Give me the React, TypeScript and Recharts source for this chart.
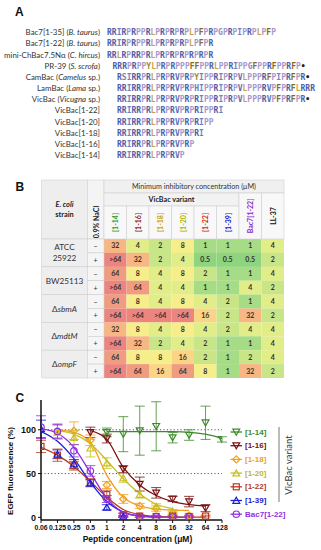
import React from "react";
import {
  BarChart,
  Bar,
  Cell,
  LabelList,
  XAxis,
  YAxis,
  ComposedChart,
  Line,
  Scatter,
  ErrorBar,
  ReferenceLine,
} from "recharts";

// ---------------- Panel A data ----------------
const seqNames = [
  "Bac7[1-35]",
  "Bac7[1-22]",
  "mini-ChBac7.5Nα",
  "PR-39",
  "CamBac",
  "LamBac",
  "VicBac",
  "VicBac[1-22]",
  "VicBac[1-20]",
  "VicBac[1-18]",
  "VicBac[1-16]",
  "VicBac[1-14]",
];
const seqOrganism = ["B. taurus", "B. taurus", "C. hircus", "S. scrofa", "Camelus", "Lama", "Vicugna", "", "", "", "", ""];
const seqOrganismSuffix = ["", "", "", "", " sp.", " sp.", " sp.", "", "", "", "", ""];
const sequences = [
  "RRIRPRPPRLPRPRPRPLPFPRPGPRPIPRPLPFP",
  "RRIRPRPPRLPRPRPRPLPFPR",
  "RRLRPRRPRLPRPRPRPRPRPR",
  "RRRPRPPYLPRPRPPPFFPPRLPPRIPPGFPPRFPPRFP•",
  "RSIRRPRLPRPRVPRPYIPPRIPRPVLPPPRFPIPRFPR•",
  "RRIRRPRLPRPRVPRPHIPPRIPRPVLPPPRVPFPRFLRRR",
  "RRIRRPRLPRPRVPRPRIPPRIPRPVLPPPRVPFPRFPR•",
  "RRIRRPRLPRPRVPRPRIPPRI",
  "RRIRRPRLPRPRVPRPRIPP",
  "RRIRRPRLPRPRVPRPRI",
  "RRIRRPRLPRPRVPRP",
  "RRIRRPRLPRPRVP",
];

// ---------------- Panel B data ----------------
const strains = ["ATCC 25922", "BW25113", "ΔsbmA", "ΔmdtM", "ΔompF"];
const naclLevels = ["−", "+"];
const peptideCols = ["[1-14]", "[1-16]", "[1-18]", "[1-20]", "[1-22]", "[1-39]", "Bac7[1-22]", "LL-37"];
const micAtccMinus = ["32", "4", "2", "8", "1", "1", "1", "4"];
const micAtccPlus = [">64", "32", "2", "4", "0.5", "0.5", "0.5", "2"];
const micBwMinus = ["64", "8", "4", "8", "2", "1", "1", "4"];
const micBwPlus = [">64", "64", "4", "4", "1", "1", "4", "2"];
const micSbmaMinus = ["64", "8", "4", "8", "4", "2", "1", "4"];
const micSbmaPlus = [">64", ">64", ">64", ">64", "16", "2", "32", "2"];
const micMdtmMinus = ["32", "8", "4", "8", "4", "2", "4", "4"];
const micMdtmPlus = [">64", "32", "2", "4", "2", "1", "1", "4"];
const micOmpfMinus = ["64", "8", "8", "16", "2", "1", "2", "4"];
const micOmpfPlus = [">64", "64", "16", "64", "8", "1", "32", "2"];
const micRows = [
  micAtccMinus, micAtccPlus, micBwMinus, micBwPlus, micSbmaMinus,
  micSbmaPlus, micMdtmMinus, micMdtmPlus, micOmpfMinus, micOmpfPlus,
];

// ---------------- Panel C data ----------------
const xTicks = [0.0625, 0.125, 0.25, 0.5, 1, 2, 4, 8, 16, 32, 64, 128];
const yTicks = [0, 50, 100];

const x14 = [1, 2, 4, 8, 16, 32, 64, 128];
const y14 = [97, 95, 99, 104, 91, 94, 108, 89];
const e14 = [5, 20, 28, 28, 6, 6, 19, 3];
const fitX14 = [1, 2, 4, 8, 16, 32, 64, 128];
const fitY14 = [98, 98, 98, 98, 97.8, 97, 95, 90];

const x16 = [0.5, 1, 2, 4, 8, 16, 32, 64];
const y16 = [97, 90, 55, 38, 28, 21, 18, 10.5];
const e16 = [6, 5, 4, 8, 6, 3, 6, 4];
const fitX16 = [0.5, 1, 2, 4, 8, 16, 32, 64];
const fitY16 = [99, 89, 57, 37, 25, 18, 14.5, 13];

const x18 = [0.125, 0.25, 0.5, 1, 2, 4, 8, 16, 32];
const y18 = [99, 99, 88, 37, 21, 13, 10, 5, 2];
const e18 = [8, 10, 6, 4, 5, 3, 3, 2, 2];
const fitX18 = [0.125, 0.25, 0.5, 1, 2, 4, 8, 16, 32];
const fitY18 = [100, 97, 86, 48, 23, 13, 9.5, 8.3, 8];

const x20 = [0.125, 0.25, 0.5, 1, 2, 4, 8, 16];
const y20 = [97, 91, 79, 62, 45, 26, 12.5, 7];
const e20 = [8, 8, 10, 6, 5, 4, 3, 2];
const fitX20 = [0.125, 0.25, 0.5, 1, 2, 4, 8, 16];
const fitY20 = [99, 95, 84, 65, 44, 27, 15, 10];

const x22 = [0.0625, 0.125, 0.25, 0.5, 1, 2, 4, 8, 16, 32, 64];
const y22 = [81, 71, 59, 40, 26, 3, 1.5, 1, 1.5, 1, 1.5];
const e22 = [7, 7, 5, 4, 5, 2, 1, 1, 1, 1, 1];
const fitX22 = [0.0625, 0.125, 0.25, 0.5, 1, 2, 4, 8, 16, 32, 64];
const fitY22 = [80, 71, 58, 41, 23, 9, 3, 1, 0.5, 0.3, 0.2];

const x39 = [0.0625, 0.125, 0.25, 0.5, 1, 2];
const y39 = [101, 72, 61, 39, 11.5, 1];
const e39 = [10, 5, 5, 4, 3, 1];
const fitX39 = [0.0625, 0.125, 0.25, 0.5, 1, 2, 4, 8];
const fitY39 = [98, 87, 67, 40, 18, 6, 1.5, 0.5];

const xBac = [0.0625, 0.125, 0.25, 0.5, 1, 2, 4, 8, 16, 32];
const yBac = [103, 98, 76, 53, 21, 2.5, 1, 0.5, 0.5, 0.5];
const eBac = [13, 8, 7, 6, 4, 2, 1, 1, 1, 1];
const fitXBac = [0.0625, 0.125, 0.25, 0.5, 1, 2, 4, 8, 16, 32];
const fitYBac = [101, 96, 80, 51, 22, 6, 1.5, 0.5, 0.2, 0.1];

const seriesNames = ["[1-14]", "[1-16]", "[1-18]", "[1-20]", "[1-22]", "[1-39]", "Bac7[1-22]"];

// ---------------- styling ----------------
const residueColor: Record<string, string> = {
  R: "#4e5ea8", P: "#a698cc", I: "#7482b8", L: "#c9a048", F: "#8a6a1a",
  Y: "#a08c2c", V: "#5e6eb2", G: "#968ac2", H: "#6d7cb4", S: "#7482b8", "•": "#222",
};
const micColor: Record<string, string> = {
  "0.5": "#8fd47e", "1": "#a6dc85", "2": "#c8e688", "4": "#e1ed88", "8": "#f6ee8a",
  "16": "#fbd486", "32": "#f6b784", "64": "#f09c80", ">64": "#ec8580",
};
const colHeaderColors = ["#2e9a2e", "#8b2020", "#c8a000", "#b0b000", "#d02828", "#1a1ad0", "#8a2ed0", "#111"];
const seriesColors = ["#3c8a28", "#7a1010", "#f0a020", "#c8c020", "#b83a1a", "#1c1cd8", "#9030e0"];
const legendTextColors = ["#3c8a28", "#7a1010", "#f0a020", "#c0b820", "#b83a1a", "#1c1cd8", "#9030e0"];

const zipPts = (xs: number[], ys: number[], es?: number[]) =>
  xs.map((x, i) => ({ x, y: ys[i], e: es ? es[i] : 0 }));

type MarkerKind = "down" | "diamond" | "up" | "square" | "circle";
const markerKinds: MarkerKind[] = ["down", "down", "diamond", "up", "square", "up", "circle"];

function Marker({ cx, cy, kind, color }: { cx: number; cy: number; kind: MarkerKind; color: string }) {
  const sw = 1.2;
  if (kind === "down")
    return <polygon points={`${cx - 3.4},${cy - 2.8} ${cx + 3.4},${cy - 2.8} ${cx},${cy + 3.2}`} fill="none" stroke={color} strokeWidth={sw} />;
  if (kind === "up")
    return <polygon points={`${cx - 3.4},${cy + 2.8} ${cx + 3.4},${cy + 2.8} ${cx},${cy - 3.2}`} fill="none" stroke={color} strokeWidth={sw} />;
  if (kind === "diamond")
    return <polygon points={`${cx},${cy - 3.6} ${cx + 3.6},${cy} ${cx},${cy + 3.6} ${cx - 3.6},${cy}`} fill="none" stroke={color} strokeWidth={sw} />;
  if (kind === "square")
    return <rect x={cx - 3} y={cy - 3} width={6} height={6} fill="none" stroke={color} strokeWidth={sw} />;
  return <circle cx={cx} cy={cy} r={3.2} fill="none" stroke={color} strokeWidth={sw} />;
}

const pointSets = [
  zipPts(x14, y14, e14), zipPts(x16, y16, e16), zipPts(x18, y18, e18), zipPts(x20, y20, e20),
  zipPts(x22, y22, e22), zipPts(x39, y39, e39), zipPts(xBac, yBac, eBac),
];
const fitSets = [
  zipPts(fitX14, fitY14), zipPts(fitX16, fitY16), zipPts(fitX18, fitY18), zipPts(fitX20, fitY20),
  zipPts(fitX22, fitY22), zipPts(fitX39, fitY39), zipPts(fitXBac, fitYBac),
];

const heatData = micRows.map((r, i) => {
  const o: any = { row: i };
  r.forEach((v, j) => {
    o[`c${j}`] = 1;
    o[`l${j}`] = v;
  });
  return o;
});

const SANS = "Lato, 'Liberation Sans', sans-serif";
const ARIAL = "'Liberation Sans', Arial, sans-serif";

// table layout
const TB = { left: 41.7, strainW: 45.6, naclW: 16.7, dataLeft: 104, colW: 22.5, top: 180, r1: 13, r2: 13, dataTop: 239, rowH: 13.9 };

export default function App() {
  const seqY0 = 32.3;
  const seqDy = 11.17;
  const seqStartX = (i: number) => (i < 3 ? 107 : i === 3 ? 112.5 : 117);
  const dataRight = TB.dataLeft + TB.colW * 8;
  const gridStroke = "#cfcfcf";

  return (
    <div style={{ position: "fixed", left: 0, top: 0, width: 321, height: 550, background: "#fff", overflow: "hidden" }}>
      {/* heatmap */}
      <div style={{ position: "absolute", left: TB.dataLeft, top: TB.dataTop }}>
        <BarChart
          width={TB.colW * 8}
          height={TB.rowH * 10}
          data={heatData}
          layout="vertical"
          margin={{ top: 0, right: 0, bottom: 0, left: 0 }}
          barCategoryGap={0}
          barGap={0}
        >
          <XAxis type="number" domain={[0, 8]} hide />
          <YAxis type="category" dataKey="row" hide />
          {peptideCols.map((p, j) => (
            <Bar key={p} dataKey={`c${j}`} stackId="s" isAnimationActive={false}>
              {heatData.map((d, i) => (
                <Cell key={i} fill={micColor[micRows[i][j]]} />
              ))}
              <LabelList
                dataKey={`l${j}`}
                position="center"
                fill="#3a3030"
                fontSize={7}
                fontWeight="bold"
                fontFamily={SANS}
              />
            </Bar>
          ))}
        </BarChart>
      </div>

      {/* dose-response chart */}
      <div style={{ position: "absolute", left: 0, top: 380 }}>
        <ComposedChart width={321} height={170} margin={{ top: 20, right: 99, bottom: 10, left: 8 }}>
          <XAxis
            type="number"
            dataKey="x"
            scale="log"
            domain={[0.0625, 128]}
            allowDataOverflow
            ticks={xTicks}
            interval={0}
            height={20}
            tickSize={3}
            tickFormatter={(v: number) => (v === 0.0625 ? "0.06" : String(v))}
            axisLine={{ stroke: "#111", strokeWidth: 1.5 }}
            tickLine={{ stroke: "#111", strokeWidth: 1 }}
            tick={{ fontSize: 6.8, fontWeight: "bold", fill: "#111", fontFamily: ARIAL }}
          />
          <YAxis
            type="number"
            domain={[-3, 134]}
            allowDataOverflow
            ticks={yTicks}
            interval={0}
            width={33}
            tickSize={3}
            axisLine={{ stroke: "#111", strokeWidth: 1.5 }}
            tickLine={{ stroke: "#111", strokeWidth: 1 }}
            tick={{ fontSize: 9, fontWeight: "bold", fill: "#111", fontFamily: ARIAL }}
          />
          <ReferenceLine y={100} stroke="#444" strokeDasharray="1.2 2.2" strokeWidth={0.9} />
          <ReferenceLine y={50} stroke="#444" strokeDasharray="1.2 2.2" strokeWidth={0.9} />
          {fitSets.map((d, k) => (
            <Line
              key={`fit${k}`}
              data={d}
              dataKey="y"
              type="monotone"
              dot={false}
              activeDot={false}
              stroke={seriesColors[k]}
              strokeWidth={1.3}
              isAnimationActive={false}
            />
          ))}
          {pointSets.map((d, k) => (
            <Scatter
              key={`pts${k}`}
              data={d}
              dataKey="y"
              isAnimationActive={false}
              shape={(p: any) => <Marker cx={p.cx} cy={p.cy} kind={markerKinds[k]} color={seriesColors[k]} />}
            >
              <ErrorBar dataKey="e" direction="y" width={5} stroke={seriesColors[k]} strokeWidth={0.8} />
            </Scatter>
          ))}
        </ComposedChart>
      </div>

      {/* overlay texts */}
      <svg width={321} height={550} style={{ position: "absolute", left: 0, top: 0, pointerEvents: "none" }}>
        {/* panel letters */}
        <text x={15} y={15.5} fontFamily={ARIAL} fontWeight="bold" fontSize={12} fill="#111">A</text>
        <text x={15.5} y={190.5} fontFamily={ARIAL} fontWeight="bold" fontSize={12} fill="#111">B</text>
        <text x={15.5} y={401.5} fontFamily={ARIAL} fontWeight="bold" fontSize={12} fill="#111">C</text>

        {/* Panel A */}
        {seqNames.map((n, i) => {
          const y = seqY0 + i * seqDy;
          return (
            <g key={n}>
              <text x={100} y={y} textAnchor="end" dominantBaseline="central" fontFamily={SANS} fontSize={7.9} fill="#333">
                {n}
                {seqOrganism[i] ? " (" : ""}
                {seqOrganism[i] ? <tspan fontStyle="italic">{seqOrganism[i]}</tspan> : null}
                {seqOrganism[i] ? seqOrganismSuffix[i] + ")" : ""}
              </text>
              <text x={seqStartX(i)} y={y} dominantBaseline="central" fontFamily="'DejaVu Sans Mono', monospace" fontSize={8} fontWeight="bold">
                {sequences[i].split("").map((c, k) => (
                  <tspan key={k} fill={residueColor[c] || "#555"}>{c}</tspan>
                ))}
              </text>
            </g>
          );
        })}

        {/* Panel B header */}
        <rect x={TB.left} y={TB.top} width={TB.strainW} height={TB.dataTop - TB.top} fill="#eeeeee" stroke={gridStroke} strokeWidth={0.6} />
        <rect x={TB.left + TB.strainW} y={TB.top} width={TB.naclW} height={TB.dataTop - TB.top} fill="#f4f4f4" stroke={gridStroke} strokeWidth={0.6} />
        <rect x={TB.dataLeft} y={TB.top} width={dataRight - TB.dataLeft} height={TB.r1} fill="#f0f0f0" stroke={gridStroke} strokeWidth={0.6} />
        <rect x={TB.dataLeft} y={TB.top + TB.r1} width={TB.colW * 6} height={TB.r2} fill="#f2f2f2" stroke={gridStroke} strokeWidth={0.6} />
        {peptideCols.map((p, j) => {
          const x = TB.dataLeft + TB.colW * j;
          const y = j < 6 ? TB.top + TB.r1 + TB.r2 : TB.top + TB.r1;
          return (
            <g key={p}>
              <rect x={x} y={y} width={TB.colW} height={TB.dataTop - y} fill="#f8f8f8" stroke={gridStroke} strokeWidth={0.6} />
              <text
                transform={`translate(${x + TB.colW / 2},${(y + TB.dataTop) / 2}) rotate(-90)`}
                textAnchor="middle"
                dominantBaseline="central"
                fontFamily={SANS}
                fontWeight="bold"
                fontSize={7}
                fill={colHeaderColors[j]}
              >
                {p}
              </text>
            </g>
          );
        })}
        <text x={(TB.dataLeft + dataRight) / 2} y={TB.top + TB.r1 / 2} textAnchor="middle" dominantBaseline="central" fontFamily={SANS} fontSize={7.2} fill="#333">
          Minimum inhibitory concentration (μM)
        </text>
        <text x={TB.dataLeft + TB.colW * 3} y={TB.top + TB.r1 + TB.r2 / 2} textAnchor="middle" dominantBaseline="central" fontFamily={SANS} fontWeight="bold" fontSize={7.2} fill="#222">
          VicBac variant
        </text>
        <text x={TB.left + TB.strainW / 2} y={204} textAnchor="middle" dominantBaseline="central" fontFamily={SANS} fontWeight="bold" fontStyle="italic" fontSize={7.4} fill="#222">
          E. coli
        </text>
        <text x={TB.left + TB.strainW / 2} y={214.5} textAnchor="middle" dominantBaseline="central" fontFamily={SANS} fontWeight="bold" fontSize={7.4} fill="#222">
          strain
        </text>
        <text
          transform={`translate(${TB.left + TB.strainW + TB.naclW / 2},222) rotate(-90)`}
          textAnchor="middle"
          dominantBaseline="central"
          fontFamily={SANS}
          fontWeight="bold"
          fontSize={7}
          fill="#222"
        >
          0.9% NaCl
        </text>

        {/* Panel B row headers */}
        {strains.map((s, g) => {
          const y0 = TB.dataTop + TB.rowH * 2 * g;
          const cy = y0 + TB.rowH;
          const isDelta = s.startsWith("Δ");
          const parts = s.split(" ");
          return (
            <g key={s}>
              <rect x={TB.left} y={y0} width={TB.strainW} height={TB.rowH * 2} fill="#eeeeee" stroke={gridStroke} strokeWidth={0.6} />
              {naclLevels.map((n, k) => (
                <g key={n}>
                  <rect x={TB.left + TB.strainW} y={y0 + TB.rowH * k} width={TB.naclW} height={TB.rowH} fill="#f5f5f5" stroke={gridStroke} strokeWidth={0.6} />
                  <text x={TB.left + TB.strainW + TB.naclW / 2} y={y0 + TB.rowH * (k + 0.5)} textAnchor="middle" dominantBaseline="central" fontFamily={SANS} fontSize={7} fill="#333">
                    {n}
                  </text>
                </g>
              ))}
              {parts.length > 1 ? (
                parts.map((p, k) => (
                  <text key={p} x={TB.left + TB.strainW / 2} y={cy + (k === 0 ? -6 : 5.5)} textAnchor="middle" dominantBaseline="central" fontFamily={SANS} fontSize={8.2} fill="#333">
                    {p}
                  </text>
                ))
              ) : (
                <text x={TB.left + TB.strainW / 2} y={cy} textAnchor="middle" dominantBaseline="central" fontFamily={SANS} fontSize={8.2} fill="#333">
                  {isDelta ? (
                    <>
                      Δ<tspan fontStyle="italic">{s.slice(1)}</tspan>
                    </>
                  ) : (
                    s
                  )}
                </text>
              )}
            </g>
          );
        })}

        {/* Panel C labels */}
        <text transform="translate(10,471) rotate(-90)" textAnchor="middle" dominantBaseline="central" fontFamily={ARIAL} fontWeight="bold" fontSize={8} fill="#111">
          EGFP fluorescence (%)
        </text>
        <text x={137.5} y={539} textAnchor="middle" dominantBaseline="central" fontFamily={ARIAL} fontWeight="bold" fontSize={8.5} fill="#111">
          Peptide concentration (μM)
        </text>
        {seriesNames.map((n, k) => {
          const y = 432 + k * 13.7;
          return (
            <g key={n}>
              <line x1={230.5} x2={242} y1={y} y2={y} stroke={seriesColors[k]} strokeWidth={1.3} />
              <Marker cx={236.3} cy={y} kind={markerKinds[k]} color={seriesColors[k]} />
              <text x={245} y={y} dominantBaseline="central" fontFamily={ARIAL} fontWeight="bold" fontSize={8} fill={legendTextColors[k]}>
                {n}
              </text>
            </g>
          );
        })}
        <line x1={279} x2={279} y1={427} y2={502} stroke="#555" strokeWidth={0.8} />
        <text transform="translate(288.5,465) rotate(-90)" textAnchor="middle" dominantBaseline="central" fontFamily={SANS} fontSize={9.5} fill="#333">
          VicBac variant
        </text>
      </svg>
    </div>
  );
}
